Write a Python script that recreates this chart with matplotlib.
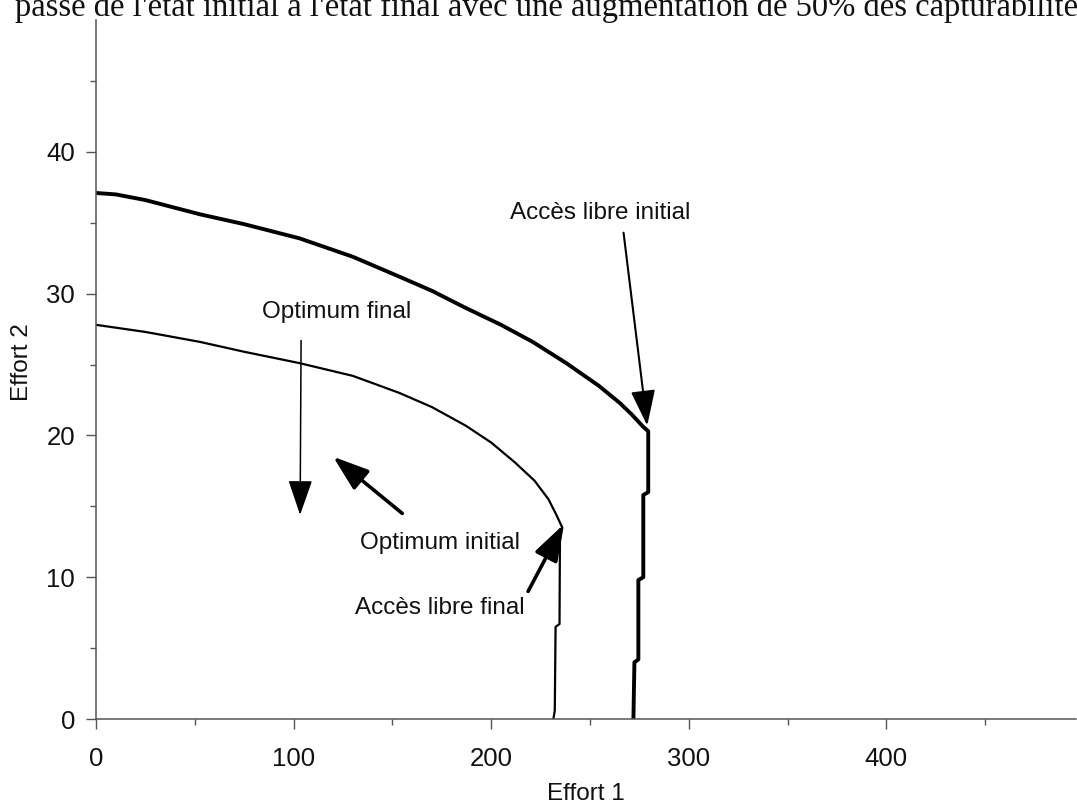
# coding=utf-8
"""
Frontieres d'acces libre / optimum, effort 1 vs effort 2
"""

import matplotlib
matplotlib.use("Agg")
import matplotlib.pyplot as plt
from matplotlib.ticker import MultipleLocator

# Courbe exterieure (etat initial)
x_init = [0, 10, 25, 52.5, 75, 103, 130, 153.5, 170, 187, 205, 221, 238, 254.5, 265, 271, 277, 279.5,
          279.5, 277, 277, 274.5, 274.5, 272.5, 272]
y_init = [37.1, 37.0, 36.6, 35.6, 34.9, 33.9, 32.6, 31.2, 30.2, 29.0, 27.8, 26.6, 25.1, 23.5, 22.3, 21.5, 20.6, 20.3,
          16.0, 15.8, 10.0, 9.8, 4.2, 4.0, 0]

# Courbe interieure (etat final)
x_final = [0, 25, 52.5, 75, 103, 130, 153.5, 170, 187, 200, 212, 222, 229, 233, 236,
           234.8, 234.6, 232.6, 232.2, 231.5]
y_final = [27.8, 27.3, 26.6, 25.9, 25.1, 24.2, 23.0, 22.0, 20.7, 19.5, 18.1, 16.8, 15.5, 14.4, 13.5,
           12.5, 6.7, 6.5, 0.6, 0]

# Etiquettes et fleches : (texte, position texte, queue, pointe, epaisseur)
labels = ["Accès libre initial", "Optimum final", "Optimum initial", "Accès libre final"]
label_pos = [(255, 35.7), (122, 28.7), (174, 12.4), (174, 7.8)]
arrow_tail = [(267, 34.3), (103.8, 26.7), (155, 14.5), (218.7, 9.0)]
arrow_tip = [(279, 20.7), (103.3, 14.4), (120, 18.5), (236.5, 13.7)]
arrow_lw = [1.5, 1.1, 2.6, 2.6]

titre = "passe de l'état initial à l'état final avec une augmentation de 50% des capturabilités"

fig = plt.figure(figsize=(10.77, 8.05), dpi=100)
# axe y a x=96 px, axe x a y=719 px depuis le haut
ax = fig.add_axes([96 / 1077, 86 / 805, 980 / 1077, 699 / 805])

ax.plot(x_init, y_init, color="black", lw=2.8, solid_joinstyle="round")
ax.plot(x_final, y_final, color="black", lw=1.6, solid_joinstyle="round")

for txt, pos in zip(labels, label_pos):
    ax.text(pos[0], pos[1], txt, ha="center", va="center", fontsize=17.5,
            family="Liberation Sans", color="#111111")

for tail, tip, lw in zip(arrow_tail, arrow_tip, arrow_lw):
    ax.annotate("", xy=tip, xytext=tail,
                arrowprops=dict(arrowstyle="-|>,head_length=1.1,head_width=0.38",
                                mutation_scale=20, lw=lw, color="black",
                                shrinkA=0, shrinkB=0))

ax.set_xlim(0, 496)
ax.set_ylim(0, 49.3)
ax.xaxis.set_major_locator(MultipleLocator(100))
ax.xaxis.set_minor_locator(MultipleLocator(50))
ax.yaxis.set_major_locator(MultipleLocator(10))
ax.yaxis.set_minor_locator(MultipleLocator(5))

for s in ["top", "right"]:
    ax.spines[s].set_visible(False)
for s in ["left", "bottom"]:
    ax.spines[s].set_color("#555555")
    ax.spines[s].set_linewidth(1.1)

ax.tick_params(which="major", length=7, width=1.0, color="#555555",
               labelsize=18.5, labelcolor="#111111")
ax.tick_params(which="minor", length=4, width=1.0, color="#555555")
ax.tick_params(axis="x", which="major", pad=13)
ax.tick_params(axis="y", which="major", pad=8)
for lab in ax.get_xticklabels() + ax.get_yticklabels():
    lab.set_family("Liberation Sans")

ax.set_xlabel("Effort 1", fontsize=17.5, family="Liberation Sans", color="#111111")
ax.set_ylabel("Effort 2", fontsize=17.5, family="Liberation Sans", color="#111111")
ax.xaxis.set_label_coords(0.5, -0.092)
ax.yaxis.set_label_coords(-0.064, 0.51)

fig.text(15 / 1077, 1 - 16 / 805, titre, fontsize=23.5, family="Liberation Serif",
         ha="left", va="baseline", color="#111111")

fig.savefig("out.png", dpi=100)
